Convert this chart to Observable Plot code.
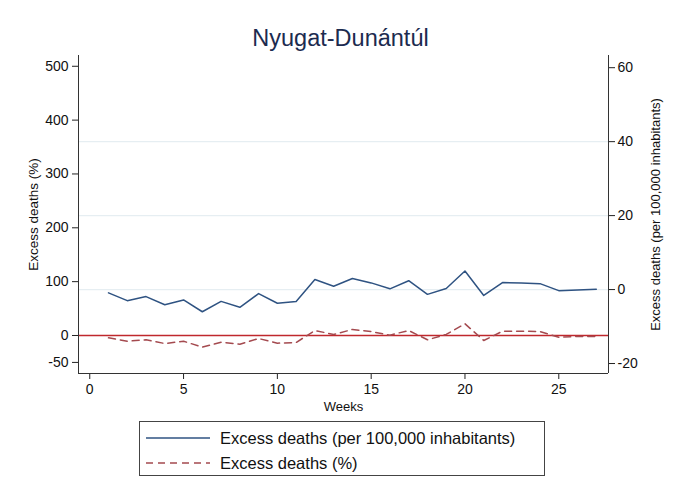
<!DOCTYPE html>
<html>
<head>
<meta charset="utf-8">
<script src="https://cdn.jsdelivr.net/npm/d3@7"></script>
<script src="https://cdn.jsdelivr.net/npm/@observablehq/plot@0.6"></script>
<style>
  body { margin: 0; background: #fff; font-family: "Liberation Sans", Arial, Helvetica, sans-serif; }
  #wrap { width: 677px; height: 496px; position: relative; background: #fff; }
  #title { height: 45px; width: 677px; text-align: center; font-size: 23.5px; color: #1c2b4f; box-sizing: border-box; padding-top: 28px; line-height: 20px; padding-left: 4px; }
  #legend { position: absolute; left: 139px; top: 421px; width: 406px; height: 55px; border: 1px solid #444; box-sizing: border-box; }
  .row { position: absolute; left: 6px; height: 20px; display: flex; align-items: center; font-size: 16.5px; color: #111; }
  .row svg { margin-right: 10px; }
</style>
</head>
<body>
<div id="wrap">
  <div id="title">Nyugat-Dunántúl</div>
  <div id="chart"></div>
  <div id="legend">
    <div class="row" style="top:6px"><svg width="64" height="4"><line x1="0" x2="64" y1="2" y2="2" stroke="#2f5382" stroke-width="1.4"/></svg>Excess deaths (per 100,000 inhabitants)</div>
    <div class="row" style="top:31px"><svg width="64" height="4"><line x1="0" x2="64" y1="2" y2="2" stroke="#a44a4f" stroke-width="1.4" stroke-dasharray="7,5"/></svg>Excess deaths (%)</div>
  </div>
</div>
<script>
const weeks = [1,2,3,4,5,6,7,8,9,10,11,12,13,14,15,16,17,18,19,20,21,22,23,24,25,26,27];
const perHundredK = [-0.9,-3.0,-1.9,-4.1,-2.8,-6.0,-3.2,-4.8,-1.1,-3.7,-3.2,2.7,0.9,3.0,1.8,0.2,2.4,-1.3,0.3,5.0,-1.6,1.9,1.8,1.6,-0.3,-0.1,0.1];
const percent = [-4.3,-10.6,-8.0,-14.9,-10.6,-21.7,-12.4,-16.2,-5.6,-14.3,-13.0,9.3,1.9,11.2,7.4,0.6,9.3,-8.0,1.9,21.7,-9.3,8.0,8.0,7.4,-3.2,-1.9,-1.9];
const xTicks = [0,5,10,15,20,25];
const leftTicks = [-50,0,100,200,300,400,500];
const rightTicks = [-20,0,20,40,60];
const rightGrid = [0,20,40];

// right axis (per 100,000) expressed in left-axis units
const rightDomain = [-22.7, 63.3];
const leftDomain = [-70.6, 520];
const toLeft = d3.scaleLinear().domain(rightDomain).range(leftDomain);

const rows = weeks.map((w, i) => ({week: w, per: perHundredK[i], pct: percent[i]}));

const fontFam = '"Liberation Sans", Arial, Helvetica, sans-serif';
const tickFont = 14;

const chart = Plot.plot({
  width: 677,
  height: 370,
  marginLeft: 78,
  marginRight: 69,
  marginTop: 10,
  marginBottom: 42,
  style: {fontFamily: fontFam, fontSize: "14px", color: "#222", background: "#fff", overflow: "visible"},
  x: {domain: [-0.6, 27.65]},
  y: {domain: leftDomain},
  marks: [
    Plot.ruleY(rightGrid, {y: d => toLeft(d), stroke: "#e6eef2", strokeWidth: 1.2}),
    Plot.ruleY([0], {stroke: "#c0282d", strokeWidth: 1.4}),
    Plot.line(rows, {x: "week", y: d => toLeft(d.per), stroke: "#2f5382", strokeWidth: 1.5}),
    Plot.line(rows, {x: "week", y: "pct", stroke: "#a44a4f", strokeWidth: 1.5, strokeDasharray: "7,5"}),
    // tick marks
    Plot.axisX({ticks: xTicks, tickSize: 6, tickFormat: () => "", label: null}),
    Plot.axisY({ticks: leftTicks, anchor: "left", tickSize: 6, tickFormat: () => "", label: null}),
    Plot.axisY(rightTicks.map(toLeft), {anchor: "right", tickSize: 6, tickFormat: () => "", label: null}),
    // tick labels
    Plot.text(xTicks, {x: d => d, frameAnchor: "bottom", lineAnchor: "middle", dy: 16, text: d => String(d), fontSize: tickFont, fill: "#111"}),
    Plot.text(leftTicks, {y: d => d, frameAnchor: "left", textAnchor: "end", dx: -10, text: d => String(d), fontSize: tickFont, fill: "#111"}),
    Plot.text(rightTicks, {y: d => toLeft(d), frameAnchor: "right", textAnchor: "start", dx: 9, text: d => String(d), fontSize: tickFont, fill: "#111"}),
    // axis titles
    Plot.text(["Weeks"], {frameAnchor: "bottom", lineAnchor: "middle", dy: 33, fontSize: 13, fill: "#111"}),
    Plot.text(["Excess deaths (%)"], {frameAnchor: "left", dx: -45, rotate: -90, textAnchor: "middle", fontSize: 13.5, fill: "#111"}),
    Plot.text(["Excess deaths (per 100,000 inhabitants)"], {frameAnchor: "right", dx: 47, rotate: -90, textAnchor: "middle", fontSize: 13, fill: "#111"}),
    // frame lines
    Plot.ruleX([-0.6], {stroke: "#333"}),
    Plot.ruleX([27.65], {stroke: "#333"}),
    Plot.ruleY([leftDomain[0]], {stroke: "#333"})
  ]
});
document.getElementById("chart").appendChild(chart);
</script>
</body>
</html>
